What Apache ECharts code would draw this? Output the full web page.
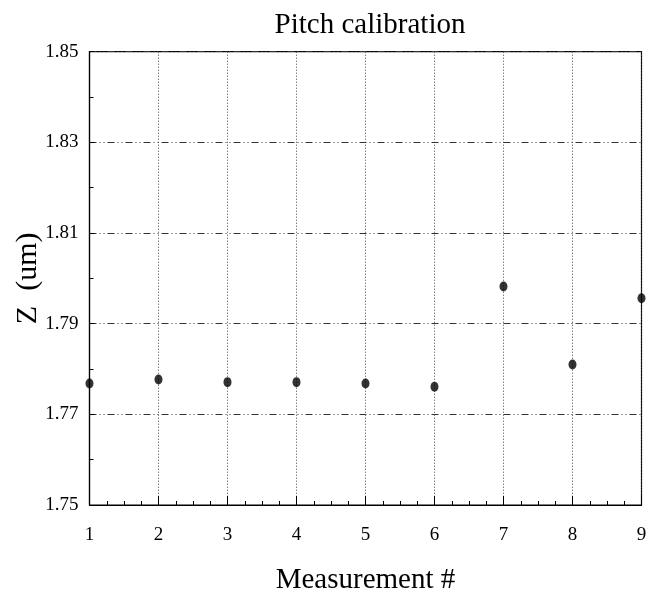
<!DOCTYPE html>
<html>
<head>
<meta charset="utf-8">
<script src="https://cdn.jsdelivr.net/npm/echarts@6/dist/echarts.min.js"></script>
<style>html,body{margin:0;padding:0;background:#fff}#c{width:649px;height:596px}</style>
</head>
<body>
<div id="c"></div>
<script>
const measurement = [1, 2, 3, 4, 5, 6, 7, 8, 9];
const zValues = [1.7768, 1.7777, 1.7771, 1.7771, 1.7768, 1.7761, 1.7982, 1.7810, 1.7956];
const yTicks = [1.75, 1.77, 1.79, 1.81, 1.83, 1.85];
const xTicks = [1, 2, 3, 4, 5, 6, 7, 8, 9];

const FONT = '"Liberation Serif", "DejaVu Serif", serif';
const chart = echarts.init(document.getElementById('c'), null, {renderer: 'canvas'});
chart.setOption({
  animation: false,
  backgroundColor: '#fff',
  title: {
    text: 'Pitch calibration',
    left: 365, textAlign: 'center', top: 6,
    textStyle: {fontFamily: FONT, fontSize: 29, fontWeight: 'normal', color: '#000'}
  },
  grid: {left: 89.5, right: 7.5, top: 51.7, bottom: 91, show: true, borderColor: '#000', borderWidth: 1.2,
    containLabel: false, outerBoundsMode: 'none'},
  xAxis: {
    type: 'value', min: xTicks[0], max: xTicks[xTicks.length - 1], interval: 1,
    name: 'Measurement #', nameLocation: 'middle', nameGap: 61, nameMoveOverlap: false,
    nameTextStyle: {fontFamily: FONT, fontSize: 29, color: '#000'},
    axisLine: {lineStyle: {color: '#000', width: 1.2}},
    axisTick: {inside: true, length: 9, lineStyle: {color: '#000'}},
    minorTick: {show: true, splitNumber: 4, length: 4, lineStyle: {color: '#000'}},
    axisLabel: {fontFamily: FONT, fontSize: 19, color: '#000', margin: 21,
      formatter: v => String(Math.round(v))},
    splitLine: {show: true, lineStyle: {color: '#444', width: 1, type: [1, 2]}}
  },
  yAxis: {
    type: 'value', min: yTicks[0], max: yTicks[yTicks.length - 1], interval: 0.02,
    name: 'Z  (um)', nameLocation: 'middle', nameGap: 46, nameRotate: 90, nameMoveOverlap: false,
    nameTextStyle: {fontFamily: FONT, fontSize: 30, color: '#000'},
    axisLine: {lineStyle: {color: '#000', width: 1.2}},
    axisTick: {inside: true, length: 5, lineStyle: {color: '#000'}},
    minorTick: {show: true, splitNumber: 2, length: 4, lineStyle: {color: '#000'}},
    axisLabel: {fontFamily: FONT, fontSize: 19, color: '#000', margin: 11, padding: [7, 0, 0, 0],
      formatter: v => v.toFixed(2)},
    splitLine: {show: true, lineStyle: {color: '#333', width: 1, type: [7, 3, 1, 3, 1, 3]}}
  },
  series: [{
    type: 'scatter',
    data: measurement.map((m, i) => [m, zValues[i]]),
    symbol: 'circle', symbolSize: [8, 10],
    itemStyle: {color: '#000'},
    clip: false
  }]
});
</script>
</body>
</html>
